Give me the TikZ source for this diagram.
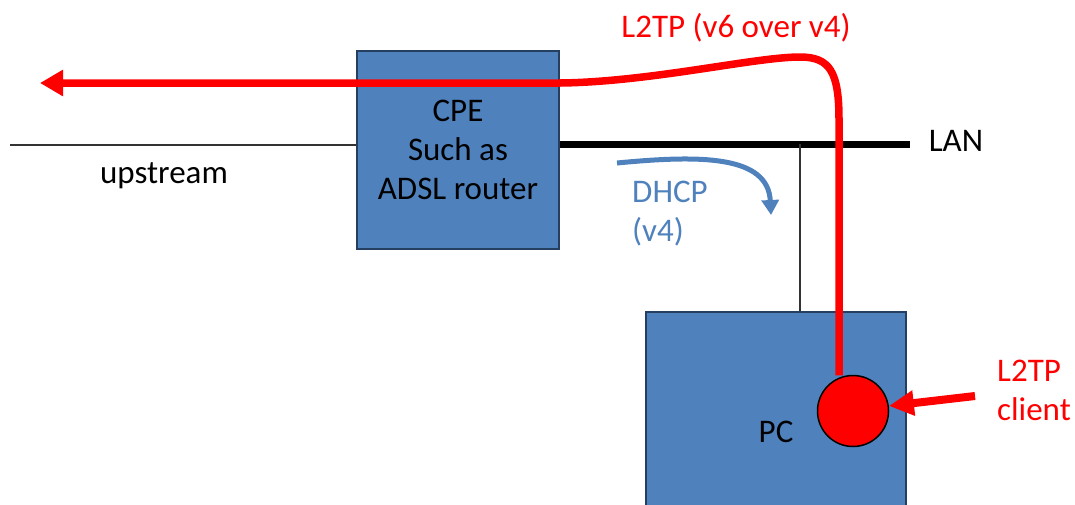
\documentclass[tikz,border=0pt]{standalone}
\usepackage{fontspec}
\setmainfont{Carlito}
\usetikzlibrary{arrows.meta}
\definecolor{boxblue}{HTML}{4F81BD}
\definecolor{boxedge}{HTML}{243F60}
\definecolor{tunnelred}{HTML}{FF0000}
\definecolor{wire}{HTML}{333333}
\tikzset{
  device/.style={draw=boxedge, line width=1.5pt, fill=boxblue, rectangle,
    inner sep=0pt, align=center, font=\fontsize{33}{39}\selectfont},
  label/.style={inner sep=0pt, font=\fontsize{33}{39}\selectfont},
  redlabel/.style={label, text=tunnelred},
  thinwire/.style={draw=wire, line width=1.5pt},
  lanwire/.style={draw=black, line width=7pt},
  tunnel/.style={draw=tunnelred, line width=7.5pt,
    -{Triangle[length=23pt,width=25pt]}},
  dhcparrow/.style={draw=boxblue, line width=5pt,
    -{Triangle[length=15pt,width=17pt]}},
  pointer/.style={draw=tunnelred, line width=8pt,
    -{Triangle[length=25pt,width=24pt]}},
}
\begin{document}
\begin{tikzpicture}[x=1pt,y=-1pt]
\useasboundingbox (0,0) rectangle (1075,504);
\clip (0,0) rectangle (1075,504);

% devices
\node[device, minimum width=202pt, minimum height=198pt] (cpe) at (458,150)
  {CPE\\Such as\\ADSL router};
\node[device, minimum width=260pt, minimum height=240pt] (pc) at (776,432) {PC};

% wires
\coordinate (upstart) at (10,145);
\coordinate (lanend) at (910,144);
\coordinate (tap) at (800,144);
\draw[thinwire] (upstart) -- (upstart -| cpe.west);
\draw[lanwire] (lanend -| cpe.east) -- (lanend);
\draw[thinwire] (tap) -- (tap |- pc.north);

% texts
\node[label, anchor=base] (upstream) at (164,183) {upstream};
\node[label, anchor=base] (lan) at (956,151) {LAN};
\node[label, anchor=base west, align=left, text=boxblue] (dhcp) at (632,241)
  {DHCP\\(v4)};
\node[redlabel, anchor=base] (tunnellabel) at (736,37) {L2TP (v6 over v4)};
\node[redlabel, anchor=base west, align=left] (clientlabel) at (997,420)
  {L2TP\\client};

% L2TP tunnel out of the client, over the CPE, upstream
\node[circle, minimum size=71pt, inner sep=0pt] (clientspot) at (853,411) {};
\coordinate (tunnelx) at (839,120);
\coordinate (tunnelend) at (40,83);
\draw[tunnel] (clientspot.north -| tunnelx) -- (tunnelx)
  .. controls (839,72) and (830,57) .. (800,57)
  .. controls (755,57) and (650,82) .. (560,83) -- (tunnelend);

% L2TP client inside the PC
\node[circle, draw=black, line width=1.5pt, fill=tunnelred, minimum size=71pt,
  inner sep=0pt] (client) at (clientspot) {};

% DHCP exchange towards the PC
\coordinate (dhcpstart) at (617,163);
\coordinate (dhcpend) at (771,215);
\draw[dhcparrow] (dhcpstart) .. controls (700,155) and (768,155) .. (dhcpend);

% pointer to the client
\coordinate (pointerstart) at (975,396);
\draw[pointer] (pointerstart) -- (client.8);
\end{tikzpicture}
\end{document}
